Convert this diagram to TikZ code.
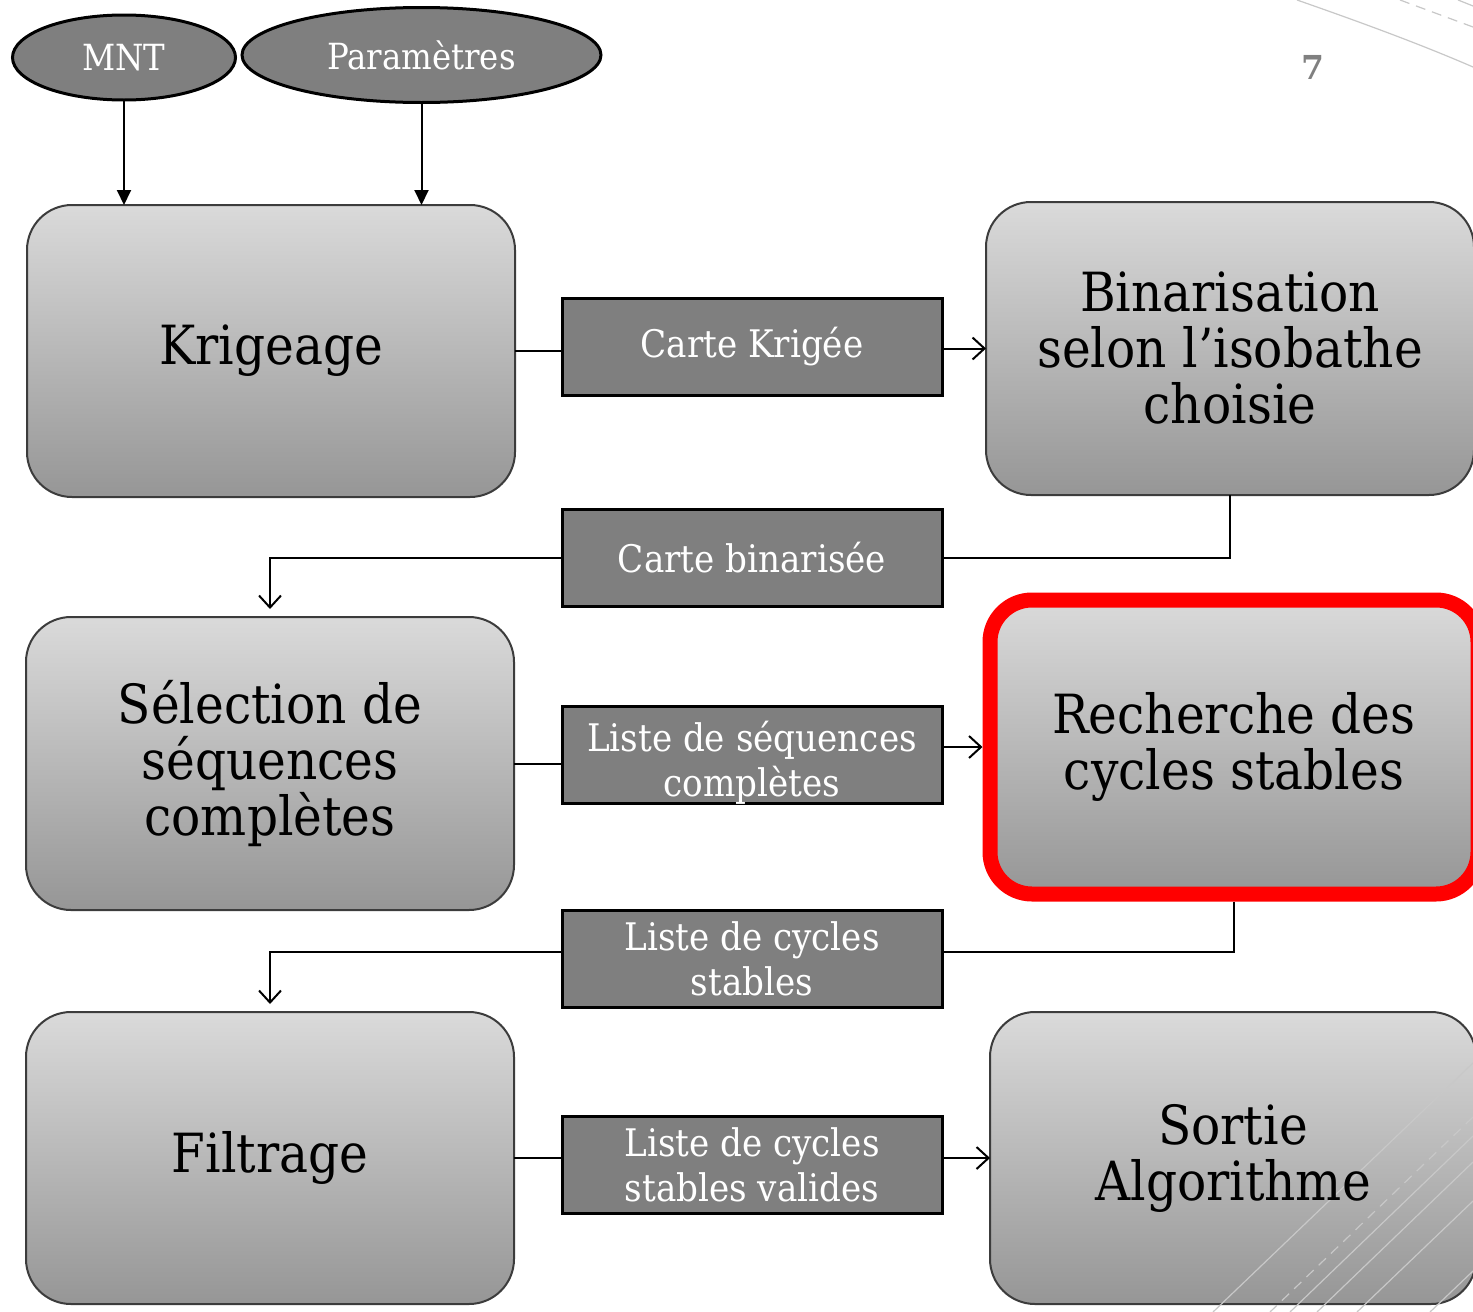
\documentclass[tikz,border=0pt]{standalone}
\usepackage{fontspec}
\setmainfont{DejaVu Serif Condensed}
\newfontfamily\numfont{DejaVu Serif}
\usetikzlibrary{arrows.meta,shapes.geometric}
\definecolor{boxtop}{RGB}{218,218,218}
\definecolor{boxbot}{RGB}{150,150,150}
\definecolor{boxline}{RGB}{60,60,60}
\definecolor{labfill}{RGB}{127,127,127}
\definecolor{hilite}{RGB}{255,0,0}
\definecolor{deco}{RGB}{200,200,200}
\definecolor{pagenum}{RGB}{128,128,128}
\tikzset{
  bigbox/.style={draw=boxline, line width=2pt, rounded corners=45pt, top color=boxtop, bottom color=boxbot,
    minimum width=488pt, minimum height=292pt, inner sep=0pt, outer sep=0pt, align=center,
    font=\fontsize{54}{56}\selectfont, text=black},
  bigtext/.style={align=center, font=\fontsize{54}{56}\selectfont, text=black, inner sep=0pt},
  labbox/.style={draw=black, line width=3pt, fill=labfill, minimum width=380pt, minimum height=97pt,
    inner sep=0pt, outer sep=0pt, align=center, font=\fontsize{38}{45}\selectfont, text=white},
  labtext/.style={align=center, font=\fontsize{38}{45}\selectfont, text=white, inner sep=0pt},
  inell/.style={ellipse, draw=black, line width=3pt, fill=labfill, inner sep=0pt, outer sep=0pt,
    font=\fontsize{36}{38}\selectfont, text=white},
  conn/.style={draw=black, line width=2pt},
  openarrow/.style={conn, -{Straight Barb[length=12pt,width=22pt,line width=2pt]}},
  fillarrow/.style={conn, -{Triangle[length=15pt,width=14pt]}},
  decoline/.style={draw=deco, line width=1.2pt},
}
\begin{document}
\begin{tikzpicture}[x=1pt,y=-1pt]
\useasboundingbox (0,0) rectangle (1473,1312);
\clip (0,0) rectangle (1473,1312);
\fill[white] (0,0) rectangle (1473,1312);

% decorative template lines (top right)
\draw[decoline] (1297,0) .. controls (1360,22) and (1420,44) .. (1473,67);
\draw[decoline, dashed, dash pattern=on 10pt off 7pt] (1400,0) -- (1473,27);
\draw[decoline] (1458,0) -- (1473,6);

% page number
\node[font=\numfont\fontsize{33}{35}\selectfont\bfseries, text=pagenum] (pg) at (1313,67) {7};

% ellipses
\node[inell, minimum width=223pt, minimum height=85pt] (mnt) at (124,57.5) {MNT};
\node[inell, minimum width=359pt, minimum height=95pt] (par) at (421.5,55) {Paramètres};

% big boxes
\node[bigbox] (kri) at (271,351) {Krigeage};
\node[bigbox, minimum height=293pt] (bin) at (1230,348.5) {Binarisation\\selon l’isobathe\\choisie};
\node[bigbox, minimum height=293pt] (sel) at (270,763.5) {Sélection de\\séquences\\complètes};
\node[bigbox, draw=hilite, line width=15pt, rounded corners=42pt, minimum height=294pt, outer sep=7.5pt] (rec) at (1234,747) {Recherche des\\cycles stables};
\node[bigbox] (fil) at (270,1158) {Filtrage};
\node[bigbox, minimum width=486pt] (sor) at (1233,1158) {};

% label boxes
\node[labbox] (ck) at (752,346.5) {Carte Krigée};
\node[labbox] (cb) at (752,557.5) {Carte binarisée};
\node[labbox] (ls) at (752,754.5) {};
\node[labtext] (lst) at (752,763) {Liste de séquences\\complètes};
\node[labbox] (lc) at (752,958.5) {Liste de cycles\\stables};
\node[labbox] (lv) at (752,1164.5) {Liste de cycles\\stables valides};

% connectors
\draw[fillarrow] (mnt.south) -- (mnt.south |- kri.north);
\draw[fillarrow] (par.south) -- (par.south |- kri.north);

\draw[conn] (kri.east) -- (kri.east -| ck.west);
\draw[openarrow] (ck.east |- bin.west) -- (bin.west);

\draw[conn] (bin.south) |- (cb.east);
\draw[openarrow, shorten >=8pt] (cb.west) -| (sel.north);

\draw[conn] (sel.east) -- (sel.east -| ls.west);
\draw[openarrow] (ls.east |- rec.west) -- (rec.west);

\draw[conn] (rec.south) |- ([yshift=6.5pt]lc.east);
\draw[openarrow, shorten >=8pt] ([yshift=6.5pt]lc.west) -| (fil.north);

\draw[conn] (fil.east) -- (fil.east -| lv.west);
\draw[openarrow] (lv.east |- sor.west) -- (sor.west);

% decorative template lines (bottom right)
\draw[decoline] (1473,1063) -- (1213,1312);
\draw[decoline, dashed, dash pattern=on 10pt off 7pt] (1473,1117) -- (1270,1312);
\draw[decoline] (1473,1136) -- (1290,1312);
\draw[decoline] (1473,1162) -- (1317,1312);
\draw[decoline] (1473,1201) -- (1357,1312);
\draw[decoline] (1473,1271) -- (1430,1312);

% text of the output box, above the template lines
\node[bigtext] (sortxt) at (sor.center) {Sortie\\Algorithme};
\end{tikzpicture}
\end{document}
